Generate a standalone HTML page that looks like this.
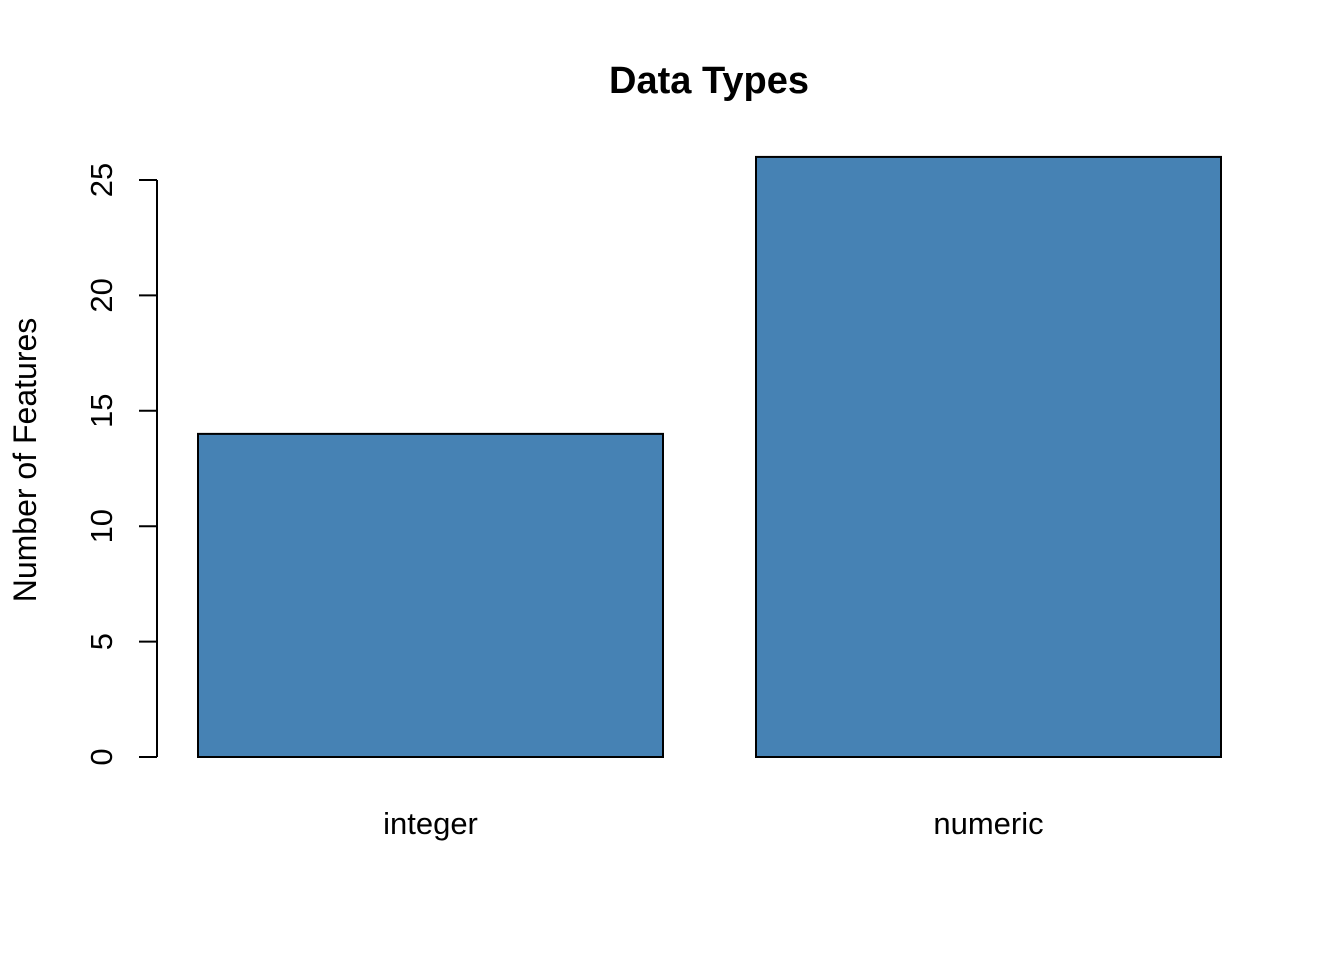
<!DOCTYPE html>
<html><head><meta charset="utf-8"><style>
html,body{margin:0;padding:0;background:#fff;}
svg{display:block;font-family:"Liberation Sans",Arial,sans-serif;}
</style></head><body>
<svg id="chart" width="1344" height="960" viewBox="0 0 1344 960">
<text x="709" y="93" text-anchor="middle" font-size="38" font-weight="bold">Data Types</text>
<text transform="translate(36,460) rotate(-90)" text-anchor="middle" font-size="32">Number of Features</text>
<g id="bars"></g>
<g id="yaxis"></g>
<g id="xlabels"></g>
</svg>
<script>
const categories = ["integer", "numeric"];
const counts = [14, 26];
const yTicks = [0, 5, 10, 15, 20, 25];
const NS = "http://www.w3.org/2000/svg";
function yPos(v){ return 757 - v * (577/25); }
function xPos(u){ return 198 + (u - 0.2) * 465; }
const bars = document.getElementById('bars');
const xl = document.getElementById('xlabels');
categories.forEach((c,i)=>{
  const left = 0.2 + i*1.2, right = left + 1;
  const r = document.createElementNS(NS,'rect');
  r.setAttribute('x', xPos(left));
  r.setAttribute('y', yPos(counts[i]));
  r.setAttribute('width', xPos(right)-xPos(left));
  r.setAttribute('height', yPos(0)-yPos(counts[i]));
  r.setAttribute('fill','#4682B4');
  r.setAttribute('stroke','#000');
  r.setAttribute('stroke-width','2');
  
  
  bars.appendChild(r);
  const t = document.createElementNS(NS,'text');
  t.setAttribute('x', (xPos(left)+xPos(right))/2);
  t.setAttribute('y', 834);
  t.setAttribute('text-anchor','middle');
  t.setAttribute('font-size','31');
  t.textContent = c;
  
  
  xl.appendChild(t);
});
const ya = document.getElementById('yaxis');
const line = document.createElementNS(NS,'line');
line.setAttribute('x1',157); line.setAttribute('x2',157);
line.setAttribute('y1',yPos(yTicks[yTicks.length-1])); line.setAttribute('y2',yPos(yTicks[0]));
line.setAttribute('stroke','#000'); line.setAttribute('stroke-width','2');


ya.appendChild(line);
yTicks.forEach(v=>{
  const tk = document.createElementNS(NS,'line');
  tk.setAttribute('x1',139); tk.setAttribute('x2',157);
  tk.setAttribute('y1',yPos(v)); tk.setAttribute('y2',yPos(v));
  tk.setAttribute('stroke','#000'); tk.setAttribute('stroke-width','2');
  
  
  ya.appendChild(tk);
  const t = document.createElementNS(NS,'text');
  t.setAttribute('transform','translate(112,'+yPos(v)+') rotate(-90)');
  t.setAttribute('text-anchor','middle');
  t.setAttribute('font-size','31');
  t.textContent = v;
  
  
  ya.appendChild(t);
});
</script>
</body></html>
